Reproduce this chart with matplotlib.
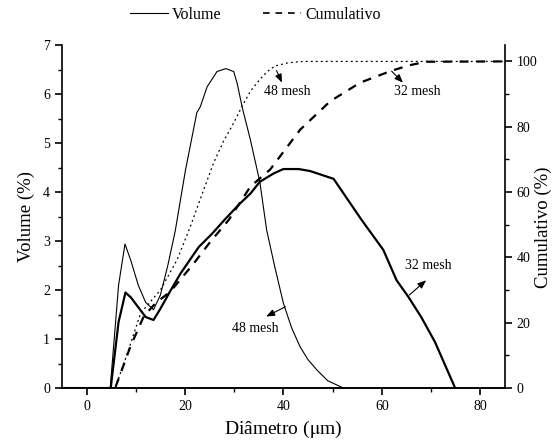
import matplotlib
matplotlib.use("Agg")
import matplotlib.pyplot as plt
from matplotlib.ticker import MultipleLocator
from matplotlib.lines import Line2D

plt.rcParams['font.family'] = ['Liberation Serif', 'DejaVu Serif']
plt.rcParams['mathtext.fontset'] = 'stix'

# volume distribution, 48 mesh (thin solid)
vol48_x = [-5, 4.8, 6.5, 7.8, 9.0, 10.5, 12.0, 13.6, 15.0, 16.5, 18.0, 20.1, 22.4,
           23.1, 24.5, 26.5, 28.3, 29.9, 30.6, 31.6, 33.3, 35.2, 36.6, 38.3, 40.0,
           41.7, 43.4, 45.0, 46.8, 49.0, 52.2]
vol48_y = [0, 0, 2.1, 2.94, 2.6, 2.1, 1.75, 1.6, 1.9, 2.5, 3.2, 4.45, 5.62,
           5.74, 6.15, 6.46, 6.52, 6.46, 6.22, 5.74, 5.06, 4.21, 3.22, 2.45, 1.73,
           1.22, 0.84, 0.58, 0.37, 0.15, 0]

# volume distribution, 32 mesh (thick solid)
vol32_x = [-5, 4.9, 6.5, 7.9, 9.0, 10.5, 12.0, 13.6, 15.0, 17.0, 19.1, 22.8, 25.5,
           28.0, 31.0, 33.3, 35.2, 38.0, 40.0, 43.1, 45.4, 50.2, 55.9, 60.3, 63.0,
           65.4, 68.0, 70.8, 74.9]
vol32_y = [0, 0, 1.35, 1.95, 1.85, 1.65, 1.45, 1.39, 1.62, 1.98, 2.34, 2.88, 3.15,
           3.43, 3.75, 3.97, 4.21, 4.38, 4.47, 4.47, 4.43, 4.27, 3.43, 2.82, 2.2,
           1.86, 1.45, 0.94, 0]

# cumulative, 48 mesh (thin dotted)
cum48_x = [5.8, 8.3, 11.0, 15.0, 18.4, 21.1, 23.5, 25.8, 27.8, 29.9, 31.5, 33.3,
           35.2, 36.8, 38.3, 41.0, 44.1, 60.0, 85.0]
cum48_y = [0, 10.7, 23.0, 30.0, 39.3, 49.5, 59.5, 68.9, 75.5, 81.2, 86.0, 90.9,
           94.5, 97.0, 98.6, 99.6, 100, 100, 100]

# cumulative, 32 mesh (thick dashed)
cum32_x = [5.9, 8.9, 11.6, 14.0, 17.0, 21.8, 25.0, 28.9, 33.3, 37.3, 43.4, 49.5,
           55.6, 61.7, 65.5, 69.1, 85.0]
cum32_y = [0.4, 12.7, 21.9, 26.0, 29.5, 38.2, 44.5, 51.5, 61.7, 66.9, 79.1, 87.8,
           93.5, 97.0, 98.8, 99.9, 100]

fig = plt.figure(figsize=(5.56, 4.42), dpi=100)
ax = fig.add_axes([0.1115, 0.122, 0.7965, 0.776])
ax2 = ax.twinx()

ax.plot(vol48_x, vol48_y, color='black', lw=0.8)
ax.plot(vol32_x, vol32_y, color='black', lw=1.6)
ax2.plot(cum48_x, cum48_y, color='black', lw=0.9, ls=(0, (1.5, 2.5)))
ax2.plot(cum32_x, cum32_y, color='black', lw=1.6, ls=(0, (4, 3.5)))

ax.set_xlim(-5, 85)
ax.set_ylim(0, 7)
ax2.set_ylim(0, 105)

ax.xaxis.set_major_locator(MultipleLocator(20))
ax.xaxis.set_minor_locator(MultipleLocator(10))
ax.yaxis.set_major_locator(MultipleLocator(1))
ax.yaxis.set_minor_locator(MultipleLocator(0.5))
ax2.yaxis.set_major_locator(MultipleLocator(20))
ax2.yaxis.set_minor_locator(MultipleLocator(10))

for a in (ax, ax2):
    a.spines['top'].set_visible(False)
    for s in a.spines.values():
        s.set_linewidth(1.2)
    a.tick_params(which='major', direction='out', length=5, width=1.2, labelsize=10)
    a.tick_params(which='minor', direction='out', length=3, width=1.0)
ax2.spines['left'].set_visible(False)
ax.spines['right'].set_visible(False)

ax.set_xlabel('Diâmetro ($\\mathrm{\\mu}$m)', fontsize=14, labelpad=4)
ax.set_ylabel('Volume (%)', fontsize=13.5, labelpad=6)
ax2.set_ylabel('Cumulativo (%)', fontsize=13.5)
ax2.yaxis.set_label_coords(1.068, 0.47)

arrow = dict(arrowstyle='-|>,head_length=0.5,head_width=0.2', color='black', lw=0.8,
             shrinkA=0, shrinkB=0)
# lower labels (volume curves)
ax.annotate('', xy=(36.5, 1.46), xytext=(40.4, 1.66), arrowprops=arrow)
ax.text(34.3, 1.22, '48 mesh', ha='center', va='center', fontsize=10)
ax.annotate('', xy=(69.0, 2.2), xytext=(65.6, 1.90), arrowprops=arrow)
ax.text(69.5, 2.5, '32 mesh', ha='center', va='center', fontsize=10)
# upper labels (cumulative curves)
ax2.annotate('', xy=(39.7, 93.5), xytext=(38.6, 97.2), arrowprops=arrow)
ax2.text(40.8, 90.8, '48 mesh', ha='center', va='center', fontsize=10)
ax2.annotate('', xy=(64.3, 93.5), xytext=(62.0, 97.0), arrowprops=arrow)
ax2.text(67.3, 90.8, '32 mesh', ha='center', va='center', fontsize=10)

handles = [Line2D([], [], color='black', lw=0.8),
           Line2D([], [], color='black', lw=1.2, ls=(0, (4, 3.5)))]
fig.legend(handles, ['Volume', 'Cumulativo'], loc='center', bbox_to_anchor=(0.459, 0.966),
           ncol=2, frameon=False, fontsize=11.5, handlelength=2.4, handletextpad=0.25,
           columnspacing=2.6)

fig.savefig('out.png', dpi=100)
